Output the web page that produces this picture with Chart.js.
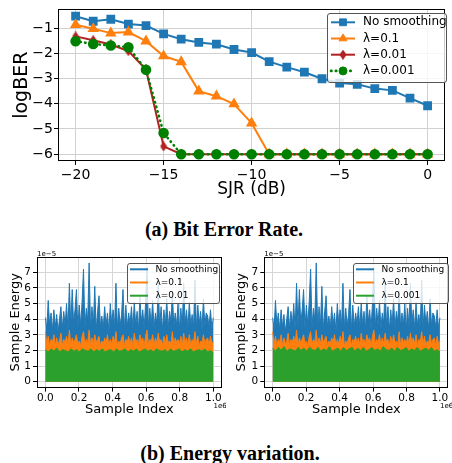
<!DOCTYPE html>
<html>
<head>
<meta charset="utf-8">
<script src="https://cdn.jsdelivr.net/npm/chart.js@4.4.1/dist/chart.umd.min.js"></script>
<style>
html, body { margin: 0; padding: 0; background: #fff; }
body { position: relative; width: 452px; height: 463px; overflow: hidden; }
canvas { position: absolute; }
#top { left: 0; top: 0; }
#left { left: 0; top: 245px; }
#right { left: 226px; top: 245px; }
.cap { position: absolute; width: 452px; text-align: center; font: bold 20px "Liberation Serif", serif; line-height: 20px; color: #000; }
</style>
</head>
<body>
<canvas id="top" width="452" height="200"></canvas>
<div class="cap" style="top:219px;left:-2px">(a) Bit Error Rate.</div>
<canvas id="left" width="226" height="175"></canvas>
<canvas id="right" width="226" height="175"></canvas>
<div class="cap" style="top:443px;left:4px">(b) Energy variation.</div>
<script>
// --- top panel: log bit error rate vs SJR ---
const sjr = [-20, -19, -18, -17, -16, -15, -14, -13, -12, -11, -10, -9, -8, -7, -6, -5, -4, -3, -2, -1, 0];
const noSmoothing = [-0.53, -0.73, -0.65, -0.84, -0.90, -1.23, -1.44, -1.57, -1.64, -1.85, -1.97, -2.33, -2.55, -2.75, -3.01, -3.18, -3.23, -3.40, -3.47, -3.78, -4.08];
const lambda01 = [-0.87, -1.03, -1.20, -1.16, -1.52, -2.11, -2.34, -3.50, -3.70, -4.01, -4.77, -6, -6, -6, -6, -6, -6, -6, -6, -6, -6];
const lambda001 = [-1.33, -1.48, -1.65, -1.91, -2.64, -5.69, -6, -6, -6, -6, -6, -6, -6, -6, -6, -6, -6, -6, -6, -6, -6];
const lambda0001 = [-1.52, -1.63, -1.69, -1.76, -2.65, -5.16, -6, -6, -6, -6, -6, -6, -6, -6, -6, -6, -6, -6, -6, -6, -6];
const berXTicks = [-20, -15, -10, -5, 0];
const berYTicks = [-6, -5, -4, -3, -2, -1];

// --- bottom panels: sample energy (x1e-5) ---
const energyNoSmooth = [4.1, 3.4, 5.2, 3.6, 4.4, 3.3, 4.6, 3.5, 4.3, 3.2, 4.0, 4.8, 3.4, 4.5, 3.6, 5.0, 3.3, 6.3, 3.5, 5.9,
  3.7, 4.6, 5.9, 3.4, 4.9, 3.6, 5.1, 7.2, 3.5, 4.7, 3.9, 7.6, 3.4, 4.8, 3.6, 6.1, 3.3, 4.5, 5.5, 3.5,
  4.2, 3.4, 4.8, 3.6, 4.4, 3.2, 5.0, 3.7, 4.6, 3.5, 6.3, 3.4, 4.7, 3.6, 4.3, 5.9, 3.3, 4.9, 3.5, 4.4,
  3.7, 4.8, 3.4, 5.1, 3.6, 4.5, 3.3, 5.5, 3.8, 4.6, 3.4, 5.0, 7.3, 3.5, 4.7, 3.6, 5.2, 3.4, 4.4, 3.7,
  6.3, 3.5, 4.8, 3.3, 4.6, 3.6, 5.3, 3.4, 4.5, 3.8, 5.8, 3.5, 4.4, 3.6, 5.0, 3.3, 4.7, 3.5, 6.3, 3.7,
  4.6, 3.4, 5.1, 3.6, 4.3, 3.5, 6.5, 3.4, 4.9, 3.7, 4.5, 3.3, 5.3, 3.6, 4.4, 4.2, 3.5, 4.6, 3.4, 4.1];
const energyLambda01 = [3.2, 2.4, 2.9, 2.3, 2.7, 2.5, 3.0, 2.3, 2.8, 2.4, 2.6, 3.1, 2.3, 2.7, 2.5, 2.9, 2.4, 3.3, 2.3, 2.8,
  2.5, 2.7, 3.0, 2.4, 2.6, 2.3, 2.9, 3.2, 2.4, 2.7, 2.5, 3.3, 2.3, 2.8, 2.4, 3.0, 2.5, 2.7, 2.9, 2.3,
  2.6, 2.4, 2.8, 2.5, 3.0, 2.3, 2.7, 2.4, 2.9, 2.5, 3.2, 2.3, 2.6, 2.4, 2.8, 3.0, 2.3, 2.7, 2.5, 2.9,
  2.4, 2.8, 2.3, 3.1, 2.5, 2.7, 2.4, 3.0, 2.6, 2.8, 2.3, 2.9, 3.3, 2.4, 2.7, 2.5, 3.0, 2.3, 2.8, 2.4,
  3.1, 2.5, 2.7, 2.3, 2.9, 2.4, 3.0, 2.5, 2.6, 2.4, 3.2, 2.3, 2.8, 2.5, 2.7, 2.4, 2.9, 2.3, 3.1, 2.5,
  2.8, 2.4, 3.0, 2.3, 2.7, 2.5, 3.2, 2.4, 2.9, 2.3, 2.6, 2.5, 3.0, 2.4, 2.7, 2.8, 2.3, 2.9, 2.4, 2.6];
const energyLambda001 = [2.05, 1.9, 2.1, 1.95, 2.15, 1.9, 2.05, 2.0, 1.9, 2.1, 1.95, 2.05, 1.9, 2.1, 2.0, 1.95, 2.1, 1.9, 2.05, 1.95,
  2.1, 1.9, 2.0, 2.05, 1.9, 2.1, 1.95, 2.0, 2.1, 1.9, 2.05, 1.95, 2.1, 1.9, 2.0, 2.1, 1.95, 2.05, 1.9, 2.1,
  2.0, 1.95, 2.05, 1.9, 2.1, 1.95, 2.0, 2.1, 1.9, 2.05, 1.95, 2.1, 1.9, 2.0, 2.05, 1.95, 2.1, 1.9, 2.0, 1.85];
const energyLambda0001 = [2.15, 1.95, 2.2, 2.0, 2.25, 1.95, 2.1, 2.05, 1.95, 2.2, 2.0, 2.15, 1.95, 2.2, 2.05, 2.0, 2.2, 1.95, 2.1, 2.0,
  2.25, 1.95, 2.05, 2.15, 1.95, 2.2, 2.0, 2.1, 2.2, 1.95, 2.15, 2.0, 2.2, 1.95, 2.05, 2.2, 2.0, 2.1, 1.95, 2.25,
  2.05, 2.0, 2.15, 1.95, 2.2, 2.0, 2.05, 2.2, 1.95, 2.1, 2.0, 2.2, 1.95, 2.05, 2.15, 2.0, 2.2, 1.95, 2.05, 1.9];
const sampleCount = 1000000;
const energyXTicks = [0, 200000, 400000, 600000, 800000, 1000000];
const energyYTicks = [0, 1, 2, 3, 4, 5, 6, 7];

const BLUE = '#1f77b4', ORANGE = '#ff7f0e', RED = '#b22222', GREEN = '#008000', GREEN2 = '#2ca02c';
Chart.defaults.font.family = '"DejaVu Sans", sans-serif';
Chart.defaults.color = '#000';

// helpers
const toPoints = (xs, ys) => ys.map((y, i) => ({ x: xs[i], y }));
const spread = ys => ys.map((y, i) => ({ x: i / (ys.length - 1) * sampleCount, y }));
const minus = v => (v < 0 ? '\u2212' + Math.abs(v) : String(v));
const fixTicks = list => scale => { scale.ticks = list.map(v => ({ value: v })); };

// thin diamond marker (matplotlib 'd')
const thinDiamond = document.createElement('canvas');
thinDiamond.width = 8; thinDiamond.height = 10;
(() => {
  const c = thinDiamond.getContext('2d');
  c.fillStyle = RED; c.strokeStyle = RED; c.lineWidth = 1;
  c.beginPath(); c.moveTo(4, 0.5); c.lineTo(7, 5); c.lineTo(4, 9.5); c.lineTo(1, 5); c.closePath();
  c.fill(); c.stroke();
})();

function drawMarker(ctx, style, r, x, y, color) {
  ctx.save();
  ctx.setLineDash([]);
  if (style instanceof HTMLCanvasElement) {
    ctx.drawImage(style, x - style.width / 2, y - style.height / 2);
    ctx.restore();
    return;
  }
  ctx.fillStyle = color; ctx.strokeStyle = color; ctx.lineWidth = 1;
  ctx.beginPath();
  if (style === 'rect') {
    const s = r * Math.SQRT1_2;
    ctx.rect(x - s, y - s, 2 * s, 2 * s);
  } else if (style === 'triangle') {
    for (let k = 0; k < 3; k++) {
      const a = k * 2 * Math.PI / 3;
      const px = x + Math.sin(a) * r, py = y - Math.cos(a) * r;
      k ? ctx.lineTo(px, py) : ctx.moveTo(px, py);
    }
  } else {
    ctx.arc(x, y, r, 0, Math.PI * 2);
  }
  ctx.closePath(); ctx.fill(); ctx.stroke();
  ctx.restore();
}

// black box around the plot area
const framePlugin = {
  id: 'frame',
  afterDatasetsDraw(chart) {
    const { ctx, chartArea: a } = chart;
    ctx.save();
    ctx.strokeStyle = '#000'; ctx.lineWidth = 1;
    ctx.strokeRect(Math.round(a.left) + 0.5, Math.round(a.top) + 0.5, Math.round(a.right - a.left) - 1, Math.round(a.bottom - a.top) - 1);
    ctx.restore();
  }
};

// matplotlib-like legend box inside the axes
const legendBox = {
  id: 'legendBox',
  afterDraw(chart, args, o) {
    const ctx = chart.ctx;
    ctx.save();
    ctx.beginPath();
    ctx.roundRect(o.x + 0.5, o.y + 0.5, o.w, o.h, 2.5);
    ctx.fillStyle = 'rgba(255,255,255,0.8)'; ctx.fill();
    ctx.strokeStyle = '#555'; ctx.lineWidth = 1; ctx.stroke();
    ctx.font = o.size + 'px "DejaVu Sans"';
    ctx.textBaseline = 'middle'; ctx.textAlign = 'left';
    chart.data.datasets.forEach((ds, i) => {
      const y = o.y + o.first + i * o.row;
      const x0 = o.x + o.pad, x1 = x0 + o.sample;
      ctx.save();
      ctx.strokeStyle = ds.borderColor;
      ctx.lineWidth = o.lw || ds.borderWidth;
      ctx.setLineDash(ds.borderDash || []);
      ctx.lineCap = ds.borderCapStyle || 'butt';
      ctx.beginPath(); ctx.moveTo(x0, y); ctx.lineTo(x1, y); ctx.stroke();
      ctx.restore();
      if (o.markers) drawMarker(ctx, ds.pointStyle, ds.pointRadius, (x0 + x1) / 2, y, ds.borderColor);
      ctx.fillStyle = '#000';
      ctx.fillText(ds.label, o.x + o.text, y);
    });
    ctx.restore();
  }
};

// axis multipliers (1e-5 on y, 1e6 on x)
const offsetText = {
  id: 'offsetText',
  afterDraw(chart) {
    const { ctx, chartArea: a } = chart;
    ctx.save();
    ctx.fillStyle = '#000'; ctx.font = '7px "DejaVu Sans"'; ctx.textBaseline = 'alphabetic';
    ctx.textAlign = 'left'; ctx.fillText('1e\u22125', a.left, a.top - 1.5);
    ctx.textAlign = 'right'; ctx.fillText('1e6', a.right + 5, a.bottom + 20);
    ctx.restore();
  }
};

new Chart(document.getElementById('top'), {
  type: 'line',
  data: {
    datasets: [
      { label: 'No smoothing', data: toPoints(sjr, noSmoothing), borderColor: BLUE, backgroundColor: BLUE,
        borderWidth: 2, pointStyle: 'rect', pointRadius: 4.8, order: 4 },
      { label: '\u03bb=0.1', data: toPoints(sjr, lambda01), borderColor: ORANGE, backgroundColor: ORANGE,
        borderWidth: 2, pointStyle: 'triangle', pointRadius: 4.6, order: 3 },
      { label: '\u03bb=0.01', data: toPoints(sjr, lambda001), borderColor: RED, backgroundColor: RED,
        borderWidth: 2, pointStyle: thinDiamond, pointRadius: 4, order: 2 },
      { label: '\u03bb=0.001', data: toPoints(sjr, lambda0001), borderColor: GREEN, backgroundColor: GREEN,
        borderWidth: 2.6, borderDash: [0.5, 4.3], borderCapStyle: 'round', pointStyle: 'circle', pointRadius: 4, order: 1 }
    ]
  },
  options: {
    responsive: false, animation: false, events: [],
    layout: { padding: { top: 7, right: 1, left: 0, bottom: 0 } },
    plugins: {
      legend: { display: false }, tooltip: { enabled: false },
      legendBox: { x: 327, y: 13, w: 119, h: 69, first: 9.3, row: 16.2, pad: 4, sample: 24, text: 36, size: 12, markers: true }
    },
    scales: {
      x: {
        type: 'linear', min: -21, max: 1,
        afterBuildTicks: fixTicks(berXTicks),
        afterFit: s => { s.height = 39; },
        border: { display: false },
        grid: { color: '#d0d0d0', tickColor: '#000', tickLength: 4 },
        ticks: { callback: minus, font: { size: 14 }, padding: 2, maxRotation: 0, autoSkip: false },
        title: { display: true, text: 'SJR (dB)', font: { size: 17 }, padding: { top: 0, bottom: 0 } }
      },
      y: {
        type: 'linear', min: -6.27, max: -0.26,
        afterBuildTicks: fixTicks(berYTicks),
        afterFit: s => { s.width = 58; },
        border: { display: false },
        grid: { color: '#d0d0d0', tickColor: '#000', tickLength: 4 },
        ticks: { callback: minus, font: { size: 14 }, padding: 1, autoSkip: false },
        title: { display: true, text: 'logBER', font: { size: 19 }, padding: { top: 11, bottom: 0 } }
      }
    }
  },
  plugins: [framePlugin, legendBox]
});

function energyChart(id, greenSeries, greenLabel, axisW, rightPad, boxW) {
  const area = (label, values, color, order) => ({
    label, data: spread(values), borderColor: color, backgroundColor: color,
    borderWidth: 1, pointRadius: 0, fill: 'origin', order
  });
  return new Chart(document.getElementById(id), {
    type: 'line',
    data: {
      datasets: [
        area('No smoothing', energyNoSmooth, BLUE, 3),
        area('\u03bb=0.1', energyLambda01, ORANGE, 2),
        area(greenLabel, greenSeries, GREEN2, 1)
      ]
    },
    options: {
      responsive: false, animation: false, events: [],
      layout: { padding: { top: 12, right: rightPad, left: 0, bottom: 0 } },
      plugins: {
        legend: { display: false }, tooltip: { enabled: false },
        legendBox: { x: 127, y: 18, w: boxW, h: 40, first: 6.3, row: 13.2, pad: 3, sample: 18, text: 28.5, size: 9, lw: 2, markers: false }
      },
      scales: {
        x: {
          type: 'linear', min: -50000, max: 1050000,
          afterBuildTicks: fixTicks(energyXTicks),
          afterFit: s => { s.height = 32.4; },
          border: { display: false },
          grid: { color: '#d6d6d6', tickColor: '#000', tickLength: 4 },
          ticks: { callback: v => (v / sampleCount).toFixed(1), font: { size: 10.5 }, padding: 0, maxRotation: 0, autoSkip: false },
          title: { display: true, text: 'Sample Index', font: { size: 13 }, padding: { top: 0, bottom: 3 } }
        },
        y: {
          type: 'linear', min: -0.38, max: 7.98,
          afterBuildTicks: fixTicks(energyYTicks),
          afterFit: s => { s.width = axisW; },
          border: { display: false },
          grid: { color: '#d6d6d6', tickColor: '#000', tickLength: 4 },
          ticks: { font: { size: 10.5 }, padding: 2, autoSkip: false },
          title: { display: true, text: 'Sample Energy', font: { size: 13 }, padding: { top: 8, bottom: 0 } }
        }
      }
    },
    plugins: [framePlugin, legendBox, offsetText]
  });
}

energyChart('left', energyLambda001, '\u03bb=0.01', 37, 4.3, 92);
energyChart('right', energyLambda0001, '\u03bb=0.001', 38.3, 3.7, 95);
</script>
</body>
</html>
